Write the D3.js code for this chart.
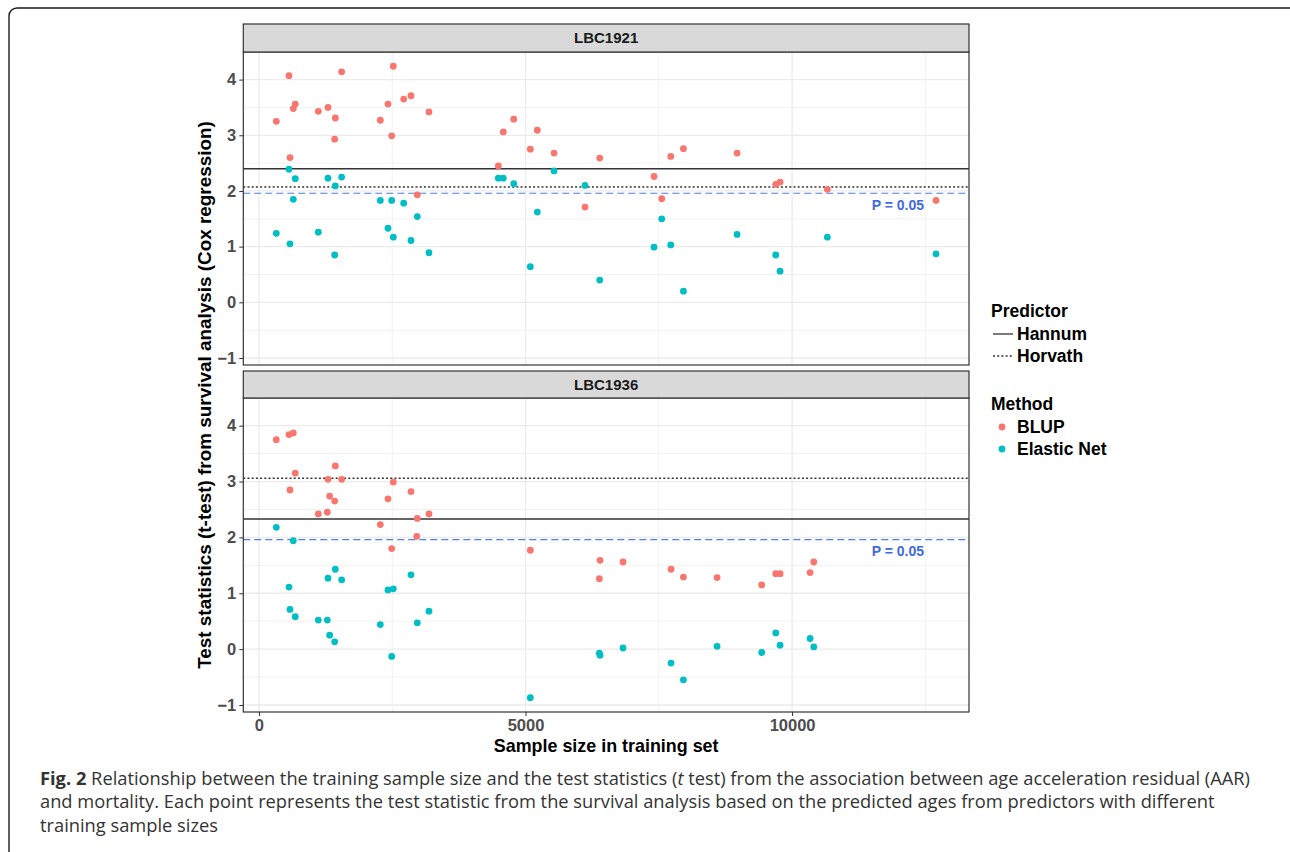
<!DOCTYPE html>
<head>
  <meta charset="utf-8">
  <script src="https://d3js.org/d3.v7.min.js"></script>
  <style>
    body { margin: 0; background: #fff; }
    svg { font-family: "Liberation Sans", Arial, sans-serif; }
    .tick text { font-weight: bold; fill: #4d4d4d; font-size: 16.5px; }
    .tick line { stroke: #333; }
    .axis path { display: none; }
    .caption { font-family: "Open Sans", sans-serif; font-size: 18.3px; fill: #333; }
  </style>
</head>
<body>
<script>

// training sample sizes + t statistics
var cohorts = ["LBC1921", "LBC1936"];

var sizes1921 = [325, 563, 582, 644, 681, 1113, 1295, 1420, 1432, 1551, 2276, 2420, 2490, 2520,
  2715, 2852, 2970, 3189, 4490, 4583, 4779, 5090, 5221, 5535, 6116, 6392, 7411, 7555, 7724,
  7962, 8968, 9694, 9775, 10662, 12700];
var blup1921 = [3.25, 4.07, 2.60, 3.48, 3.56, 3.43, 3.50, 2.93, 3.31, 4.14, 3.27, 3.56, 2.99, 4.24,
  3.65, 3.71, 1.93, 3.42, 2.45, 3.06, 3.29, 2.75, 3.09, 2.68, 1.71, 2.59, 2.26, 1.86, 2.62,
  2.76, 2.68, 2.12, 2.16, 2.03, 1.83];
var enet1921 = [1.24, 2.39, 1.05, 1.85, 2.22, 1.26, 2.23, 0.85, 2.09, 2.25, 1.83, 1.33, 1.83, 1.17,
  1.78, 1.11, 1.54, 0.89, 2.23, 2.23, 2.13, 0.64, 1.62, 2.36, 2.10, 0.40, 0.99, 1.50, 1.03,
  0.20, 1.22, 0.85, 0.56, 1.17, 0.87];

var blupSizes1936 = [325, 563, 582, 644, 681, 1113, 1282, 1295, 1326, 1420, 1432, 1551, 2276, 2420,
  2490, 2520, 2852, 2960, 2970, 3189, 5090, 6385, 6398, 6829, 7730, 7962, 8593, 9430, 9694,
  9775, 10338, 10407];
var blup1936 = [3.75, 3.84, 2.85, 3.87, 3.15, 2.42, 2.45, 3.04, 2.74, 2.65, 3.28, 3.04, 2.23, 2.69,
  1.80, 2.99, 2.82, 2.02, 2.34, 2.42, 1.77, 1.26, 1.59, 1.56, 1.43, 1.29, 1.28, 1.15, 1.35,
  1.35, 1.37, 1.56];
var enetSizes1936 = [325, 563, 582, 644, 681, 1113, 1282, 1295, 1326, 1420, 1432, 1551, 2276, 2420,
  2490, 2520, 2852, 2970, 3189, 5090, 6385, 6398, 6829, 7730, 7962, 8593, 9430, 9694, 9775,
  10338, 10407];
var enet1936 = [2.18, 1.11, 0.71, 1.94, 0.58, 0.52, 0.52, 1.27, 0.25, 0.13, 1.43, 1.24, 0.44, 1.06,
  -0.13, 1.08, 1.33, 0.47, 0.68, -0.87, -0.07, -0.11, 0.02, -0.25, -0.55, 0.05, -0.06, 0.29, 0.07,
  0.19, 0.04];

// reference lines per cohort (Hannum solid, Horvath dotted)
var hannum = [2.40, 2.33];
var horvath = [2.07, 3.06];
var pLine = 1.96;
var pLabel = {x: 11985, y: 1.75, text: "P = 0.05"};

var methods = ["BLUP", "Elastic Net"];
var predictors = ["Hannum", "Horvath"];
var xTicks = [0, 5000, 10000];
var yTicks = [-1, 0, 1, 2, 3, 4];

var points = [];
function addSeries(cohort, method, xs, ys) {
  xs.forEach(function(x, i) { points.push({cohort: cohort, method: method, x: x, y: ys[i]}); });
}
addSeries("LBC1921", "BLUP", sizes1921, blup1921);
addSeries("LBC1921", "Elastic Net", sizes1921, enet1921);
addSeries("LBC1936", "BLUP", blupSizes1936, blup1936);
addSeries("LBC1936", "Elastic Net", enetSizes1936, enet1936);

var width = 1290, height = 852;
var panelLeft = 243.3, panelRight = 969;
var panels = [{top: 52, bottom: 365, strip: 24}, {top: 398, bottom: 712, strip: 371}];

var color = d3.scaleOrdinal().domain(methods).range(["#F8766D", "#00BFC4"]);

// ggplot style 5% expansion
function expand(ext) { var r = ext[1] - ext[0]; return [ext[0] - 0.05 * r, ext[1] + 0.05 * r]; }

var x = d3.scaleLinear()
    .domain(expand(d3.extent(points, function(d) { return d.x; })))
    .range([panelLeft, panelRight]);
var yDomain = expand(d3.extent(points, function(d) { return d.y; }));

var svg = d3.select("body").append("svg")
    .attr("width", width)
    .attr("height", height);

svg.append("rect").attr("width", width).attr("height", height).attr("fill", "#fff");

// figure frame, only top-left corner visible
svg.append("rect")
    .attr("x", 9).attr("y", 8)
    .attr("width", 1320).attr("height", 880)
    .attr("rx", 8)
    .attr("fill", "none")
    .attr("stroke", "#1a1a1a")
    .attr("stroke-width", 1.4);

cohorts.forEach(function(cohort, pi) {
  var p = panels[pi];
  var y = d3.scaleLinear().domain(yDomain).range([p.bottom, p.top]);
  var g = svg.append("g");

  // grid
  var xMinor = [2500, 7500, 12500];
  var yMinor = d3.range(-0.5, 4.5, 1);
  g.selectAll(".xminor").data(xMinor).enter().append("line")
      .attr("x1", x).attr("x2", x).attr("y1", p.top).attr("y2", p.bottom)
      .attr("stroke", "#f2f2f2").attr("stroke-width", 1);
  g.selectAll(".yminor").data(yMinor).enter().append("line")
      .attr("x1", panelLeft).attr("x2", panelRight).attr("y1", y).attr("y2", y)
      .attr("stroke", "#f2f2f2").attr("stroke-width", 1);
  g.selectAll(".xmajor").data(xTicks).enter().append("line")
      .attr("x1", x).attr("x2", x).attr("y1", p.top).attr("y2", p.bottom)
      .attr("stroke", "#ebebeb").attr("stroke-width", 1.3);
  g.selectAll(".ymajor").data(yTicks).enter().append("line")
      .attr("x1", panelLeft).attr("x2", panelRight).attr("y1", y).attr("y2", y)
      .attr("stroke", "#ebebeb").attr("stroke-width", 1.3);

  // reference lines
  g.append("line")
      .attr("x1", panelLeft).attr("x2", panelRight)
      .attr("y1", y(pLine)).attr("y2", y(pLine))
      .attr("stroke", "#4f7cf0").attr("stroke-width", 1.1)
      .attr("stroke-dasharray", "7,4");
  g.append("line")
      .attr("x1", panelLeft).attr("x2", panelRight)
      .attr("y1", y(horvath[pi])).attr("y2", y(horvath[pi]))
      .attr("stroke", "#333").attr("stroke-width", 1.5)
      .attr("stroke-dasharray", "2,2.2");
  g.append("line")
      .attr("x1", panelLeft).attr("x2", panelRight)
      .attr("y1", y(hannum[pi])).attr("y2", y(hannum[pi]))
      .attr("stroke", "#333").attr("stroke-width", 1.5);

  g.append("text")
      .attr("x", x(pLabel.x)).attr("y", y(pLabel.y))
      .attr("dy", "0.35em")
      .attr("text-anchor", "middle")
      .attr("fill", "#4169E1")
      .style("font-weight", "bold").style("font-size", "14px")
      .text(pLabel.text);

  g.selectAll(".dot")
      .data(points.filter(function(d) { return d.cohort === cohort; }))
    .enter().append("circle")
      .attr("r", 3.4)
      .attr("cx", function(d) { return x(d.x); })
      .attr("cy", function(d) { return y(d.y); })
      .style("fill", function(d) { return color(d.method); });

  // panel border + strip
  g.append("rect")
      .attr("x", panelLeft).attr("y", p.top)
      .attr("width", panelRight - panelLeft).attr("height", p.bottom - p.top)
      .attr("fill", "none").attr("stroke", "#333").attr("stroke-width", 1.2);
  g.append("rect")
      .attr("x", panelLeft).attr("y", p.strip)
      .attr("width", panelRight - panelLeft).attr("height", p.top - p.strip)
      .attr("fill", "#d9d9d9").attr("stroke", "#333").attr("stroke-width", 1.2);
  g.append("text")
      .attr("x", (panelLeft + panelRight) / 2).attr("y", (p.strip + p.top) / 2)
      .attr("dy", "0.35em")
      .attr("text-anchor", "middle")
      .attr("fill", "#1a1a1a")
      .style("font-weight", "bold").style("font-size", "15px")
      .text(cohort);

  // y axis
  g.append("g")
      .attr("class", "axis")
      .attr("transform", "translate(" + panelLeft + ",0)")
      .call(d3.axisLeft(y).tickValues(yTicks).tickSize(4).tickPadding(3).tickFormat(d3.format("d")));

  if (pi === 1) {
    g.append("g")
        .attr("class", "axis")
        .attr("transform", "translate(0," + p.bottom + ")")
        .call(d3.axisBottom(x).tickValues(xTicks).tickSize(4).tickPadding(3).tickFormat(d3.format("d")));
  }
});

// axis titles
svg.append("text")
    .attr("x", (panelLeft + panelRight) / 2).attr("y", 752)
    .attr("text-anchor", "middle")
    .style("font-weight", "bold").style("font-size", "17.9px")
    .text("Sample size in training set");

svg.append("text")
    .attr("transform", "translate(211,395) rotate(-90)")
    .attr("text-anchor", "middle")
    .style("font-weight", "bold").style("font-size", "18.9px")
    .text("Test statistics (t-test) from survival analysis (Cox regression)");

// legend
var legend = svg.append("g").attr("transform", "translate(991,0)");
legend.append("text").attr("x", 0).attr("y", 317)
    .style("font-weight", "bold").style("font-size", "17.5px").text("Predictor");
predictors.forEach(function(name, i) {
  var yy = 334 + i * 22;
  legend.append("line")
      .attr("x1", 2).attr("x2", 22).attr("y1", yy).attr("y2", yy)
      .attr("stroke", "#333").attr("stroke-width", 1.3)
      .attr("stroke-dasharray", i === 0 ? null : "2,2.2");
  legend.append("text").attr("x", 26).attr("y", yy).attr("dy", "0.35em")
      .style("font-weight", "bold").style("font-size", "17.5px").text(name);
});
legend.append("text").attr("x", 0).attr("y", 410)
    .style("font-weight", "bold").style("font-size", "17.5px").text("Method");
methods.forEach(function(name, i) {
  var yy = 427 + i * 22;
  legend.append("circle").attr("cx", 11).attr("cy", yy).attr("r", 3.4)
      .style("fill", color(name));
  legend.append("text").attr("x", 26).attr("y", yy).attr("dy", "0.35em")
      .style("font-weight", "bold").style("font-size", "17.5px").text(name);
});

// caption
var cap = svg.append("text").attr("class", "caption");
var l1 = cap.append("tspan").attr("x", 40).attr("y", 785);
l1.append("tspan").style("font-weight", "bold").text("Fig. 2");
l1.append("tspan").text(" Relationship between the training sample size and the test statistics (");
l1.append("tspan").style("font-style", "italic").text("t");
l1.append("tspan").text(" test) from the association between age acceleration residual (AAR)");
cap.append("tspan").attr("x", 40).attr("y", 808)
    .text("and mortality. Each point represents the test statistic from the survival analysis based on the predicted ages from predictors with different");
cap.append("tspan").attr("x", 40).attr("y", 832).text("training sample sizes");

</script>
</body>
